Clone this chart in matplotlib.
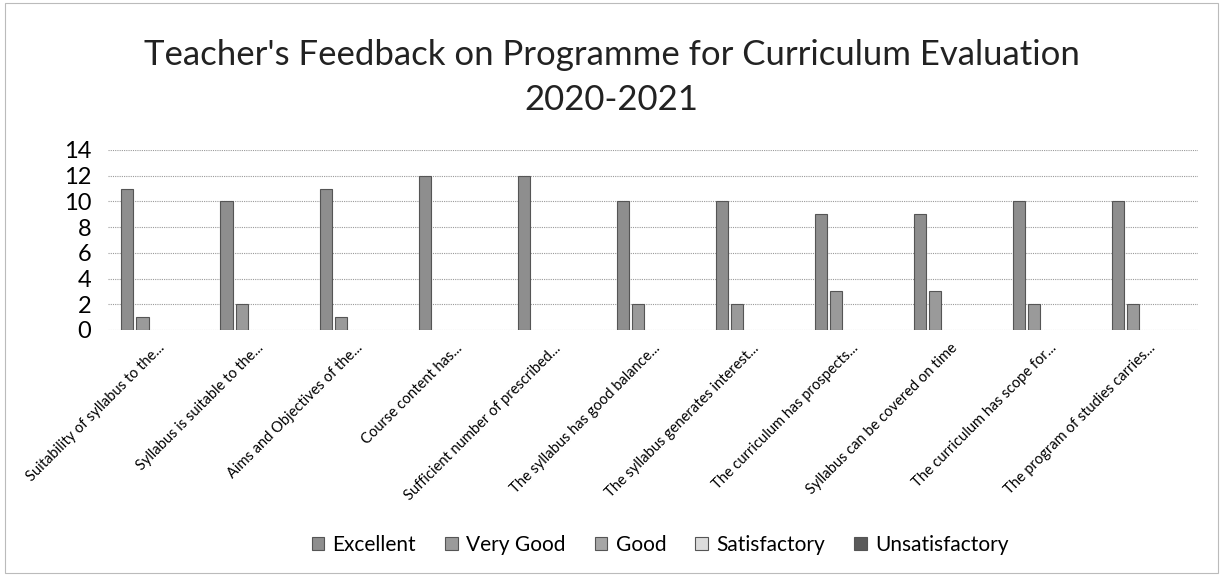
import numpy as np
import matplotlib.pyplot as plt
from matplotlib.patches import Rectangle, Patch

categories = [
    "Suitability of syllabus to the...",
    "Syllabus is suitable to the...",
    "Aims and Objectives of the...",
    "Course content has...",
    "Sufficient number of prescribed...",
    "The syllabus has good balance...",
    "The syllabus generates interest...",
    "The curriculum has prospects...",
    "Syllabus can be covered on time",
    "The curriculum has scope for...",
    "The program of studies carries...",
]
series_names = ["Excellent", "Very Good", "Good", "Satisfactory", "Unsatisfactory"]
excellent = [11, 10, 11, 12, 12, 10, 10, 9, 9, 10, 10]
very_good = [1, 2, 1, 0, 0, 2, 2, 3, 3, 2, 2]
good = [0] * 11
satisfactory = [0] * 11
unsatisfactory = [0] * 11

plt.rcParams['font.family'] = ['Lato', 'DejaVu Sans']

colors = ["#8e8e8e", "#9a9a9a", "#a6a6a6", "#dcdcdc", "#5a5a5a"]
values = [excellent, very_good, good, satisfactory, unsatisfactory]

fig = plt.figure(figsize=(12.23, 5.75), dpi=100)
ax = fig.add_axes([108 / 1223, 1 - 330 / 575, (1198 - 108) / 1223, 180 / 575])

x = np.arange(len(categories))
step = 0.152
width = 0.122
handles = []
for i, (name, vals, col) in enumerate(zip(series_names, values, colors)):
    # zero-height bars should not leave an outline on the baseline
    lw = [0.8 if v > 0 else 0 for v in vals]
    ax.bar(x + (i - 2) * step, vals, width, color=col, edgecolor="#555555",
           linewidth=lw, zorder=3)
    handles.append(Patch(facecolor=col, edgecolor="#555555", linewidth=0.8, label=name))

ax.set_xlim(-0.5, len(categories) - 0.5)
ax.set_ylim(0, 14)
ax.set_yticks(range(0, 15, 2))
ax.yaxis.grid(True, linestyle=(0, (1, 1)), color="#9a9a9a", linewidth=0.8, zorder=0)
for s in ax.spines.values():
    s.set_visible(False)
ax.tick_params(axis="both", length=0)
ax.tick_params(axis="y", labelsize=17, pad=12)
ax.set_xticks(x)
ax.set_xticklabels(categories, rotation=45, ha="right", rotation_mode="anchor",
                   fontsize=10.5)
ax.tick_params(axis="x", pad=8)

fig.text(0.5, 1 - 55 / 575, "Teacher's Feedback on Programme for Curriculum Evaluation",
         ha="center", va="center", fontsize=25, color="#222222")
fig.text(0.5, 1 - 100 / 575, "2020-2021", ha="center", va="center",
         fontsize=25, color="#222222")

fig.legend(handles=handles, loc="center", bbox_to_anchor=(660 / 1223, 1 - 545 / 575),
           ncol=5, frameon=False, fontsize=15, handlelength=0.6, handleheight=0.6,
           columnspacing=1.4, handletextpad=0.4)

fig.patches.append(Rectangle((0.004, 0.004), 0.992, 0.99, transform=fig.transFigure,
                             fill=False, edgecolor="#bbbbbb", linewidth=0.8))

fig.savefig("out.png", dpi=100)
